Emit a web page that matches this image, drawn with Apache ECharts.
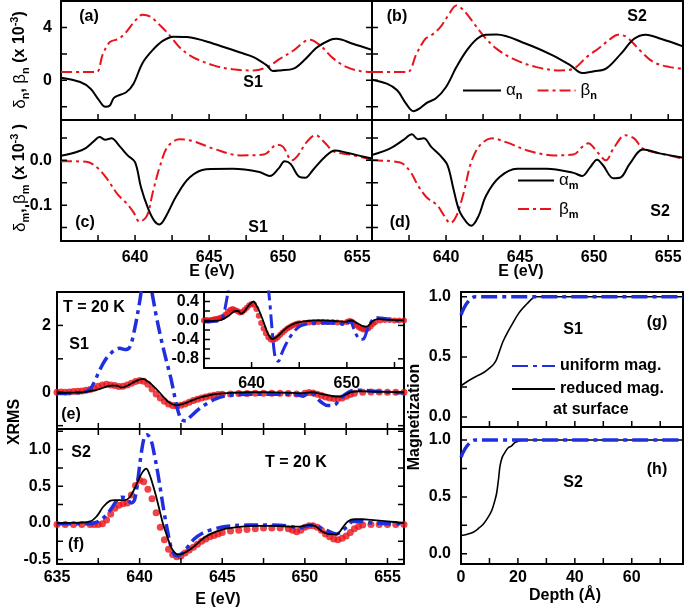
<!DOCTYPE html>
<html><head><meta charset="utf-8">
<script src="https://cdn.jsdelivr.net/npm/echarts@6/dist/echarts.min.js"></script>
<style>html,body{margin:0;padding:0;background:#fff}#c{width:685px;height:607px}</style>
</head><body><div id="c"></div>
<script>
// ---------- DATA ----------
const alphaN_S1 = [[635.0,0.2],[636.3,-0.13],[637.0,-0.63],[637.5,-1.4],[638.0,-2.0],[638.3,-1.9],[638.6,-1.3],[639.4,-0.9],[639.9,-0.25],[640.5,1.3],[641.2,2.3],[641.9,3.0],[642.6,3.3],[643.5,3.27],[645.3,2.77],[647.1,2.1],[648.0,1.76],[648.9,1.13],[649.3,0.7],[649.8,0.75],[650.7,0.88],[651.4,1.5],[652.3,2.5],[653.2,3.07],[653.6,3.14],[654.7,2.77],[656.0,2.3]];
const betaN_S1 = [[635.0,0.63],[636.5,0.63],[637.4,0.63],[637.8,1.9],[638.3,2.9],[638.9,3.14],[639.4,3.65],[640.0,4.5],[640.5,4.96],[641.0,4.83],[641.7,4.15],[642.4,3.32],[643.0,2.5],[643.9,1.76],[645.3,1.13],[646.6,0.83],[648.0,0.75],[648.9,1.0],[649.8,1.64],[650.7,2.26],[651.4,2.9],[651.8,3.07],[652.5,2.64],[653.4,1.64],[654.3,1.0],[655.2,0.7],[656.0,0.63]];
const alphaN_S2 = [[635.0,0.05],[636.0,-0.25],[636.7,-0.75],[637.3,-1.76],[637.8,-2.34],[638.2,-2.14],[638.7,-1.7],[639.3,-1.38],[640.0,-0.5],[640.7,1.0],[641.4,2.26],[642.1,3.14],[642.7,3.45],[643.4,3.47],[645.4,2.77],[647.2,1.89],[648.4,1.13],[649.2,0.55],[650.0,0.68],[650.8,0.88],[651.8,2.0],[652.7,3.14],[653.5,3.45],[654.5,3.14],[656.0,2.57]];
const betaN_S2 = [[635.0,0.63],[636.5,0.63],[637.4,0.63],[638.0,2.0],[638.6,3.14],[639.0,3.4],[639.6,4.0],[640.2,5.0],[640.7,5.66],[641.2,5.28],[641.9,4.28],[642.6,3.27],[643.4,2.4],[644.5,1.64],[646.1,1.0],[647.7,0.75],[648.6,0.88],[649.5,1.76],[650.4,2.5],[651.1,3.14],[651.6,3.45],[652.2,3.27],[653.1,2.26],[654.0,1.38],[655.1,1.0],[656.0,0.88]];
const alphaM_S1 = [[635.0,0.01],[636.1,0.019],[636.7,0.028],[637.2,0.042],[637.6,0.052],[638.0,0.046],[638.4,0.049],[639.0,0.03],[639.5,0.011],[640.0,-0.004],[640.4,-0.06],[640.9,-0.109],[641.3,-0.135],[641.65,-0.143],[642.1,-0.124],[642.8,-0.079],[643.7,-0.038],[644.8,-0.02],[646.6,-0.019],[648.4,-0.026],[649.1,-0.035],[649.7,-0.018],[650.1,-0.002],[650.5,-0.008],[651.1,-0.037],[651.5,-0.039],[652.0,-0.022],[652.8,0.007],[653.5,0.022],[654.3,0.017],[655.2,0.01],[656.0,0.004]];
const betaM_S1 = [[635.0,-0.002],[636.7,-0.003],[637.4,-0.015],[638.1,-0.041],[638.8,-0.075],[639.4,-0.095],[639.9,-0.116],[640.3,-0.137],[640.8,-0.124],[641.2,-0.071],[641.7,-0.011],[642.2,0.03],[643.0,0.047],[643.9,0.043],[645.3,0.026],[647.1,0.011],[648.7,0.013],[649.6,0.035],[650.0,0.03],[650.6,0.0],[651.0,0.011],[651.6,0.041],[652.2,0.056],[652.8,0.04],[653.4,0.02],[654.5,0.013],[656.0,0.002]];
const alphaM_S2 = [[635.0,0.012],[636.2,0.026],[637.1,0.045],[637.7,0.058],[638.1,0.047],[638.5,0.049],[639.0,0.03],[639.6,0.011],[640.1,-0.011],[640.5,-0.064],[640.9,-0.113],[641.4,-0.139],[641.7,-0.146],[642.2,-0.124],[642.7,-0.079],[643.6,-0.038],[644.8,-0.019],[646.8,-0.019],[648.6,-0.028],[649.2,-0.035],[649.7,-0.017],[650.2,0.0015],[650.6,-0.011],[651.3,-0.04],[651.8,-0.038],[652.4,-0.008],[653.3,0.024],[654.5,0.015],[656.0,0.006]];
const betaM_S2 = [[635.0,0.0],[636.9,-0.005],[637.6,-0.026],[638.1,-0.056],[638.7,-0.083],[639.4,-0.1],[639.8,-0.12],[640.3,-0.14],[640.7,-0.124],[641.2,-0.071],[641.7,-0.004],[642.3,0.034],[643.1,0.049],[644.1,0.04],[645.5,0.022],[647.3,0.011],[648.6,0.013],[649.2,0.03],[649.6,0.038],[650.2,0.019],[650.8,0.0],[651.3,0.026],[652.1,0.056],[652.7,0.049],[653.3,0.026],[654.5,0.015],[656.0,0.004]];
const xrmsData_S1 = [[635.0,0.0],[635.25,0.01],[635.5,0.0],[635.75,0.01],[636.0,0.02],[636.25,0.03],[636.5,0.04],[636.75,0.06],[637.0,0.08],[637.25,0.12],[637.5,0.18],[637.75,0.22],[638.0,0.24],[638.25,0.22],[638.5,0.2],[638.75,0.17],[639.0,0.18],[639.25,0.22],[639.5,0.27],[639.75,0.32],[640.0,0.35],[640.25,0.33],[640.5,0.24],[640.75,0.1],[641.0,-0.05],[641.25,-0.17],[641.5,-0.27],[641.75,-0.35],[642.0,-0.4],[642.25,-0.41],[642.5,-0.39],[642.75,-0.35],[643.0,-0.3],[643.25,-0.25],[643.5,-0.21],[643.75,-0.17],[644.0,-0.14],[644.25,-0.11],[644.5,-0.09],[644.75,-0.07],[645.0,-0.06],[645.5,-0.05],[646.0,-0.04],[646.5,-0.04],[647.0,-0.03],[647.5,-0.03],[648.0,-0.03],[648.5,-0.03],[649.0,-0.04],[649.5,-0.05],[650.0,-0.03],[650.25,-0.01],[650.5,-0.02],[650.75,-0.06],[651.0,-0.1],[651.25,-0.14],[651.5,-0.17],[651.75,-0.19],[652.0,-0.19],[652.25,-0.17],[652.5,-0.12],[652.75,-0.07],[653.0,-0.03],[653.5,0.0],[654.0,0.01],[654.5,0.01],[655.0,0.0],[655.5,0.0],[656.0,0.0]];
const uniform_S1 = [[635.0,-0.03],[636.0,-0.02],[636.6,0.0],[637.0,0.09],[637.3,0.35],[637.6,0.68],[637.9,0.95],[638.2,1.13],[638.5,1.27],[638.8,1.32],[639.1,1.28],[639.4,1.35],[639.7,1.9],[640.0,2.7],[640.2,3.3],[640.45,3.6],[640.7,3.1],[641.0,2.3],[641.3,1.6],[641.6,0.98],[641.9,0.4],[642.2,-0.3],[642.5,-0.8],[642.8,-0.86],[643.1,-0.72],[643.6,-0.5],[644.1,-0.33],[644.6,-0.2],[645.2,-0.11],[646.0,-0.07],[647.0,-0.06],[648.0,-0.06],[649.0,-0.06],[649.6,-0.08],[649.9,-0.12],[650.1,-0.05],[650.35,0.0],[650.7,-0.16],[651.0,-0.3],[651.4,-0.4],[651.8,-0.38],[652.1,-0.22],[652.4,-0.08],[652.8,0.04],[653.3,0.06],[654.0,0.04],[655.0,0.0],[656.0,-0.02]];
const reduced_S1 = [[635.0,-0.03],[636.0,-0.01],[636.6,0.0],[637.2,0.05],[637.6,0.1],[638.0,0.17],[638.3,0.2],[638.6,0.2],[638.9,0.14],[639.2,0.18],[639.5,0.26],[639.8,0.34],[640.2,0.4],[640.5,0.32],[640.8,0.2],[641.2,0.0],[641.5,-0.17],[641.8,-0.31],[642.2,-0.39],[642.6,-0.35],[642.9,-0.3],[643.3,-0.22],[643.7,-0.15],[644.2,-0.09],[644.7,-0.05],[645.5,-0.02],[646.5,0.0],[647.5,0.0],[648.5,-0.01],[649.3,-0.02],[649.8,-0.03],[650.2,-0.01],[650.5,0.0],[650.9,-0.04],[651.3,-0.08],[651.7,-0.12],[652.1,-0.13],[652.5,-0.06],[652.8,0.0],[653.3,0.03],[654.0,0.02],[655.0,0.01],[656.0,0.0]];
const xrmsData_S2 = [[635.0,-0.02],[635.5,-0.02],[636.0,-0.02],[636.5,-0.02],[637.0,-0.02],[637.25,-0.02],[637.5,-0.02],[637.75,-0.01],[638.0,0.04],[638.25,0.12],[638.5,0.2],[638.75,0.24],[639.0,0.26],[639.25,0.27],[639.5,0.38],[639.75,0.51],[640.0,0.58],[640.25,0.56],[640.5,0.46],[640.75,0.33],[641.0,0.14],[641.25,-0.06],[641.5,-0.23],[641.75,-0.36],[642.0,-0.43],[642.25,-0.46],[642.5,-0.45],[642.75,-0.41],[643.0,-0.37],[643.25,-0.33],[643.5,-0.29],[643.75,-0.25],[644.0,-0.22],[644.25,-0.19],[644.5,-0.17],[644.75,-0.15],[645.0,-0.13],[645.5,-0.11],[646.0,-0.1],[646.5,-0.09],[647.0,-0.08],[647.5,-0.07],[648.0,-0.07],[648.5,-0.07],[649.0,-0.08],[649.25,-0.1],[649.5,-0.12],[649.75,-0.1],[650.0,-0.06],[650.25,-0.04],[650.5,-0.04],[650.75,-0.06],[651.0,-0.1],[651.25,-0.15],[651.5,-0.19],[651.75,-0.22],[652.0,-0.23],[652.25,-0.21],[652.5,-0.18],[652.75,-0.13],[653.0,-0.08],[653.25,-0.05],[653.5,-0.03],[654.0,-0.02],[654.5,-0.02],[655.0,-0.02],[655.5,-0.02],[656.0,-0.02]];
const uniform_S2 = [[635.0,-0.01],[636.0,-0.01],[637.0,-0.01],[637.4,0.01],[637.7,0.05],[638.0,0.11],[638.3,0.2],[638.6,0.3],[638.9,0.35],[639.2,0.34],[639.5,0.27],[639.7,0.32],[639.9,0.6],[640.1,0.95],[640.3,1.18],[640.45,1.2],[640.7,1.12],[640.9,0.92],[641.1,0.68],[641.3,0.4],[641.5,0.12],[641.7,-0.12],[641.9,-0.33],[642.1,-0.43],[642.3,-0.45],[642.6,-0.41],[642.9,-0.33],[643.3,-0.22],[643.8,-0.14],[644.4,-0.09],[645.2,-0.05],[646.5,-0.03],[648.0,-0.03],[649.0,-0.04],[649.6,-0.07],[650.0,-0.05],[650.5,-0.03],[651.0,-0.07],[651.4,-0.11],[651.9,-0.15],[652.2,-0.12],[652.6,-0.04],[652.9,0.02],[653.3,0.02],[654.0,0.0],[655.0,-0.01],[656.0,-0.01]];
const reduced_S2 = [[635.0,0.0],[636.0,0.0],[637.0,0.02],[637.4,0.09],[637.8,0.22],[638.2,0.3],[638.5,0.31],[638.8,0.31],[639.1,0.31],[639.4,0.35],[639.7,0.47],[640.0,0.62],[640.2,0.7],[640.4,0.74],[640.6,0.66],[640.8,0.52],[641.0,0.36],[641.2,0.18],[641.4,0.0],[641.6,-0.14],[641.8,-0.27],[642.0,-0.37],[642.3,-0.43],[642.6,-0.42],[643.0,-0.37],[643.4,-0.3],[643.8,-0.22],[644.3,-0.15],[645.0,-0.09],[645.8,-0.06],[647.0,-0.04],[648.0,-0.04],[649.0,-0.05],[649.7,-0.05],[650.2,-0.03],[650.6,-0.04],[651.0,-0.11],[651.4,-0.15],[651.9,-0.16],[652.3,-0.06],[652.6,0.02],[653.0,0.05],[653.5,0.05],[654.0,0.04],[655.0,0.02],[656.0,0.0]];
const magUniform_S1 = [[0,0.85],[5,1.0],[78,1.0]];
const magReduced_S1 = [[0,0.26],[2.5,0.3],[5.5,0.34],[8,0.37],[10.2,0.41],[11.5,0.44],[12.5,0.48],[13.7,0.56],[14.8,0.63],[16.5,0.71],[18.4,0.79],[20.2,0.86],[21.9,0.91],[23.5,0.95],[24.8,0.98],[26,1.0],[78,1.0]];
const magUniform_S2 = [[0,0.85],[5,1.0],[78,1.0]];
const magReduced_S2 = [[0,0.16],[2,0.17],[4.3,0.19],[6,0.22],[7.8,0.26],[9.5,0.32],[10.8,0.38],[11.8,0.46],[12.5,0.53],[13.2,0.66],[13.7,0.77],[14.5,0.85],[15.4,0.89],[16.5,0.93],[17.8,0.95],[19,0.98],[20.1,0.99],[22,1.0],[78,1.0]];
// ticks / labels
const eTicks = [637.5,640,642.5,645,647.5,650,652.5,655];
const eLabelsTop = [640,645,650,655];
const eLabelsBottom = [635,640,645,650,655];
const nTicks = [-2,0,2,4], nLabels = [0,4];
const mTicks = [-0.15,-0.1,-0.05,0,0.05], mLabels = [-0.1,0];
const eYTicks = [-1,0,1,2], eYLabels = [0,2];
const fYTicks = [-0.5,-0.25,0,0.25,0.5,0.75,1.0,1.25], fYLabels = [-0.5,0,0.5,1.0];
const insXTicks = [640,645,650,655], insXLabels = [640,650];
const insYTicks = [-0.8,-0.6,-0.4,-0.2,0,0.2,0.4], insYLabels = [-0.8,-0.4,0,0.4];
const gYTicks = [0,0.25,0.5,0.75,1.0], gYLabels = [0,0.5,1.0];
const dTicks = [10,20,30,40,50,60,70], dLabels = [0,20,40,60];

// ---------- STYLE / LAYOUT ----------
const FF = '"Liberation Sans", Arial, sans-serif';
const RED = '#e8141c', BLUE = '#1f2fe0', BLK = '#000';
const grids = [], xAxes = [], yAxes = [], series = [];
function labCfg(vals, fmt, margin){
  if(!vals) return {show:false};
  return {show:true, customValues: vals, margin: margin, color:BLK, fontFamily:FF, fontWeight:'bold', fontSize:16, formatter: fmt};
}
// tick marks as short line series running through the axes' scales
function tickLines(p, X, Y, m){
  const segs = [];
  const dx = (X.max - X.min) * 6 / p.w, dy = (Y.max - Y.min) * 6 / p.h;
  X.ticks.forEach(v => { segs.push([[v, Y.min],[v, Y.min + dy]]); if (m.top) segs.push([[v, Y.max],[v, Y.max - dy]]); });
  Y.ticks.forEach(v => { segs.push([[X.min, v],[X.min + dx, v]]); if (m.right) segs.push([[X.max, v],[X.max - dx, v]]); });
  segs.forEach(s => series.push({type:'line', xAxisIndex:p.xi, yAxisIndex:p.yi, data:s, showSymbol:false, symbol:'none', silent:true,
    clip:false, lineStyle:{color:BLK, width:1.5}, z:8+p.z, animation:false}));
}
function panel(rect, X, Y, mirror, white){
  const m = Object.assign({top:true, right:true}, mirror||{});
  grids.push({left:rect[0], top:rect[1], width:rect[2], height:rect[3], show:!!white, borderWidth:0, backgroundColor:'#fff', z:white?1:0, containLabel:false});
  const gi = grids.length-1;
  const xi = xAxes.length, yi = yAxes.length;
  const AL = {show:true, onZero:false, lineStyle:{color:BLK, width:2}};
  const zz = white ? 2 : 0;
  const NT = {show:false};
  xAxes.push({type:'value', gridIndex:gi, z:zz, min:X.min, max:X.max, position:'bottom', axisLine:AL, splitLine:{show:false}, axisTick:NT, axisLabel:labCfg(X.labels, X.fmt, X.margin)});
  xAxes.push({type:'value', gridIndex:gi, z:zz, min:X.min, max:X.max, position:'top', axisLine:AL, splitLine:{show:false}, axisTick:NT, axisLabel:{show:false}});
  yAxes.push({type:'value', gridIndex:gi, z:zz, min:Y.min, max:Y.max, position:'left', axisLine:AL, splitLine:{show:false}, axisTick:NT, axisLabel:labCfg(Y.labels, Y.fmt, Y.margin)});
  yAxes.push({type:'value', gridIndex:gi, z:zz, min:Y.min, max:Y.max, position:'right', axisLine:AL, splitLine:{show:false}, axisTick:NT, axisLabel:{show:false}});
  const p = {xi, yi, z: white ? 3 : 0, w: rect[2], h: rect[3]};
  tickLines(p, X, Y, m);
  return p;
}
const f0 = v => String(Math.round(v));
const f1 = v => (Math.abs(v)<1e-9?0:v).toFixed(1);
function line(p, name, data, color, width, type, z){
  series.push({type:'line', name, xAxisIndex:p.xi, yAxisIndex:p.yi, data, showSymbol:false, symbol:'none', smooth:0.35, clip:true,
    lineStyle:{color, width, type}, itemStyle:{color}, z: (z||3)+p.z, animation:false});
}
function dots(p, name, data, size){
  series.push({type:'scatter', name, xAxisIndex:p.xi, yAxisIndex:p.yi, data, symbol:'circle', symbolSize:size, itemStyle:{color:RED}, z:2+p.z, animation:false, clip:true});
}
const DASHDOT = [11,4,3,4];
const BDASH = [14,5,4,5];

const PA = panel([61,1,311,119], {min:635,max:656,ticks:eTicks}, {min:-3,max:6,ticks:nTicks,labels:nLabels,fmt:f0,margin:9}, {top:false});
const PB = panel([372,1,311,119], {min:635,max:656,ticks:eTicks}, {min:-3,max:6,ticks:nTicks}, {top:false, right:false});
const PC = panel([61,120,311,121], {min:635,max:656,ticks:eTicks,labels:eLabelsTop,fmt:f0,margin:9}, {min:-0.18,max:0.09,ticks:mTicks,labels:mLabels,fmt:f1,margin:9}, {top:false});
const PD = panel([372,120,311,121], {min:635,max:656,ticks:eTicks,labels:eLabelsTop,fmt:f0,margin:9}, {min:-0.18,max:0.09,ticks:mTicks}, {top:false, right:false});
const PE = panel([57,292,347,137], {min:635,max:656,ticks:eTicks}, {min:-1.1,max:3.0,ticks:eYTicks,labels:eYLabels,fmt:f0,margin:6}, {top:false});
const PF = panel([57,429,347,135], {min:635,max:656,ticks:eTicks,labels:eLabelsBottom,fmt:f0,margin:6}, {min:-0.56,max:1.28,ticks:fYTicks,labels:fYLabels,fmt:f1,margin:6});
const PI = panel([204,292,200,76], {min:635,max:656,ticks:insXTicks,labels:insXLabels,fmt:f0,margin:8}, {min:-1.0,max:0.6,ticks:insYTicks,labels:insYLabels,fmt:f1,margin:5}, {top:false, right:false}, true);
const PG = panel([461,292,222,135], {min:0,max:78,ticks:dTicks}, {min:-0.083,max:1.04,ticks:gYTicks,labels:gYLabels,fmt:f1,margin:10}, {top:false, right:false});
const PH = panel([461,427,222,137], {min:0,max:78,ticks:dTicks,labels:dLabels,fmt:f0,margin:6}, {min:-0.09,max:1.115,ticks:gYTicks,labels:gYLabels,fmt:f1,margin:10}, {top:false, right:false});

line(PA,'αn',alphaN_S1,BLK,2,'solid',4); line(PA,'βn',betaN_S1,RED,2,DASHDOT,3);
line(PB,'αn',alphaN_S2,BLK,2,'solid',4); line(PB,'βn',betaN_S2,RED,2,DASHDOT,3);
line(PC,'αm',alphaM_S1,BLK,2,'solid',4); line(PC,'βm',betaM_S1,RED,2,DASHDOT,3);
line(PD,'αm',alphaM_S2,BLK,2,'solid',4); line(PD,'βm',betaM_S2,RED,2,DASHDOT,3);
dots(PE,'data S1',xrmsData_S1,7); line(PE,'reduced S1',reduced_S1,BLK,1.8,'solid',4); line(PE,'uniform S1',uniform_S1,BLUE,3.5,BDASH,3);
dots(PI,'data S1',xrmsData_S1,6); line(PI,'reduced S1',reduced_S1,BLK,1.8,'solid',4); line(PI,'uniform S1',uniform_S1,BLUE,3,BDASH,3);
dots(PF,'data S2',xrmsData_S2,7); line(PF,'reduced S2',reduced_S2,BLK,1.8,'solid',4); line(PF,'uniform S2',uniform_S2,BLUE,3.5,BDASH,3);
line(PG,'reduced mag.',magReduced_S1,BLK,1.6,'solid',3); line(PG,'uniform mag.',magUniform_S1,BLUE,3.5,[16,5,4,5],4);
line(PH,'reduced mag.',magReduced_S2,BLK,1.6,'solid',3); line(PH,'uniform mag.',magUniform_S2,BLUE,3.5,[16,5,4,5],4);

const RICH = {
  t:{fontFamily:FF, fontWeight:'bold', fontSize:16, color:BLK, lineHeight:22},
  g:{fontFamily:FF, fontWeight:'normal', fontSize:17, color:BLK, lineHeight:22},
  s:{fontFamily:FF, fontWeight:'bold', fontSize:11, color:BLK, lineHeight:11, verticalAlign:'bottom'},
  p:{fontFamily:FF, fontWeight:'bold', fontSize:11, color:BLK, lineHeight:11, verticalAlign:'top'}
};
const legendNames = {'αn':'{g|α}{s|n}','βn':'{g|β}{s|n}','αm':'{g|α}{s|m}','βm':'{g|β}{s|m}','uniform mag.':'{t|uniform mag.}','reduced mag.':'{t|reduced mag.}'};
function legend(cfg){
  return Object.assign({show:true, selectedMode:false, itemHeight:10, padding:0,
    itemStyle:{opacity:0, color:'rgba(0,0,0,0)', borderWidth:0},
    formatter: n => legendNames[n], textStyle:{rich:RICH, color:BLK}}, cfg);
}
const legends = [
  legend({data:['αn','βn'], left:462, top:82, orient:'horizontal', itemWidth:38, itemGap:14}),
  legend({data:['αm','βm'], left:517, top:172, orient:'vertical', itemWidth:36, itemGap:9}),
  legend({data:['uniform mag.','reduced mag.'], left:511, top:358, orient:'vertical', itemWidth:43, itemGap:7})
];

function txt(x, y, s, opt){
  return {type:'text', x, y, z:100, style:Object.assign({text:s, fill:BLK, font:'bold 16px '+FF, align:'center', verticalAlign:'middle'}, opt||{})};
}
function rtxt(x, y, s, rot){
  return {type:'text', x, y, z:100, rotation:rot||0, style:{text:s, rich:RICH, fill:BLK, align:'center', verticalAlign:'middle'}};
}
const graphics = [
  txt(89,17,'(a)'), txt(253,83,'S1'), txt(397,17,'(b)'), txt(637,17,'S2'),
  txt(85,223,'(c)'), txt(258,228,'S1'), txt(400,223,'(d)'), txt(660,212,'S2'),
  txt(212,272,'E (eV)'), txt(521,272,'E (eV)'),
  txt(63,308,'T = 20 K',{align:'left'}), txt(79,345,'S1'), txt(71,415,'(e)'),
  txt(81,453,'S2'), txt(296,463,'T = 20 K'), txt(76,545,'(f)'), txt(218,600,'E (eV)'),
  txt(573,330,'S1'), txt(657,323,'(g)'), txt(657,470,'(h)'), txt(573,483,'S2'),
  txt(553,410,'at surface',{align:'left'}),
  txt(565,596,'Depth (Å)'),
  rtxt(20,60,'{g|δ}{s|n}{t|, }{g|β}{s|n}{t| (x 10}{p|-3}{t|)}', Math.PI/2),
  rtxt(20,178,'{g|δ}{s|m}{t|, }{g|β}{s|m}{t| (x 10}{p|-3}{t| )}', Math.PI/2),
  Object.assign(txt(15,422,'XRMS'), {rotation:Math.PI/2}),
  Object.assign(txt(415,417,'Magnetization'), {rotation:Math.PI/2})
];

const chart = echarts.init(document.getElementById('c'), null, {renderer:'canvas'});
chart.setOption({
  animation:false, backgroundColor:'#fff',
  grid:grids, xAxis:xAxes, yAxis:yAxes, series, legend:legends, graphic:graphics
});
</script></body></html>
